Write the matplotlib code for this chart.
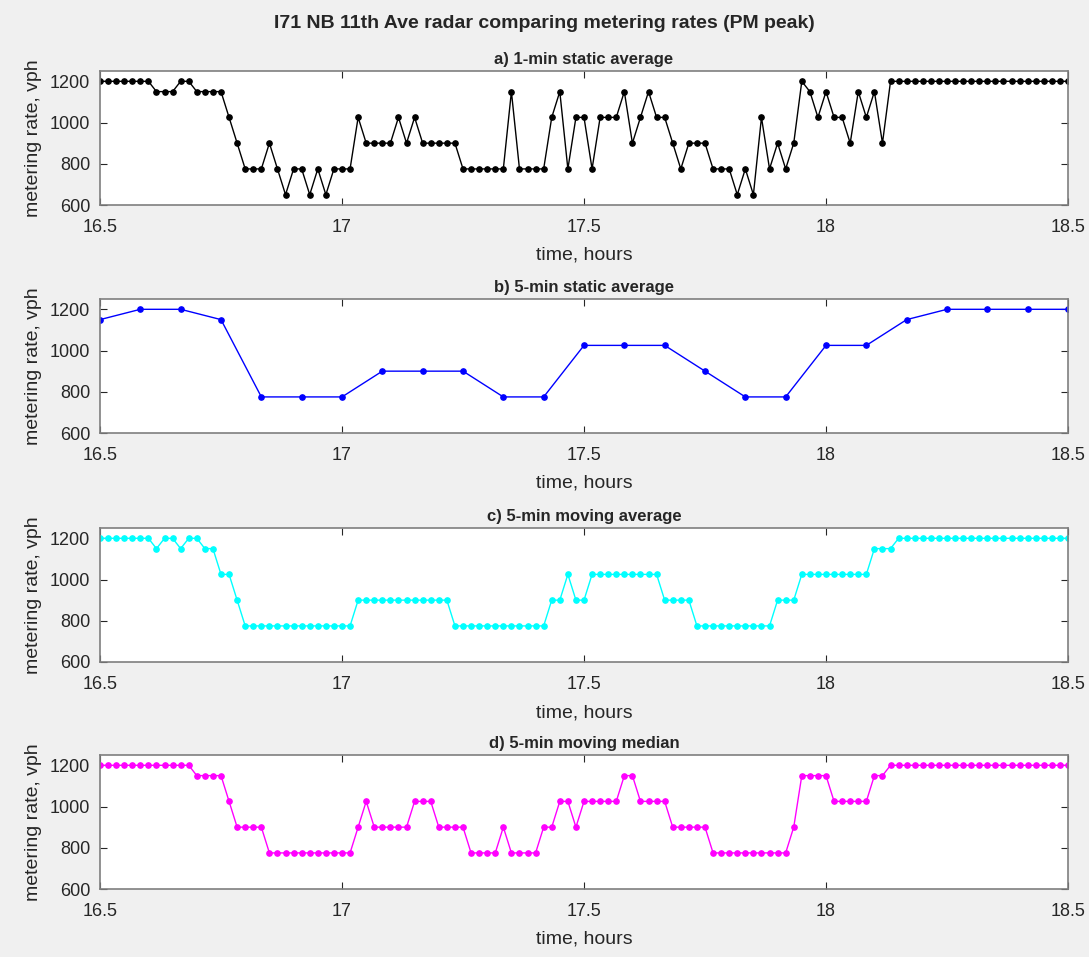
import numpy as np
import matplotlib
matplotlib.use("Agg")
import matplotlib.pyplot as plt

plt.rcParams['font.family'] = ['Liberation Sans', 'DejaVu Sans']

# --- data: metering rates (vph), one sample per minute from 16.5 h to 18.5 h ---
minutes = np.arange(121)
t_1min = 16.5 + minutes / 60.0

rate_1min_static = [
    1200, 1200, 1200, 1200, 1200, 1200, 1200, 1150, 1150, 1150,
    1200, 1200, 1150, 1150, 1150, 1150, 1025, 900, 775, 775,
    775, 900, 775, 650, 775, 775, 650, 775, 650, 775,
    775, 775, 1025, 900, 900, 900, 900, 1025, 900, 1025,
    900, 900, 900, 900, 900, 775, 775, 775, 775, 775,
    775, 1150, 775, 775, 775, 775, 1025, 1150, 775, 1025,
    1025, 775, 1025, 1025, 1025, 1150, 900, 1025, 1150, 1025,
    1025, 900, 775, 900, 900, 900, 775, 775, 775, 650,
    775, 650, 1025, 775, 900, 775, 900, 1200, 1150, 1025,
    1150, 1025, 1025, 900, 1150, 1025, 1150, 900, 1200, 1200,
    1200, 1200, 1200, 1200, 1200, 1200, 1200, 1200, 1200, 1200,
    1200, 1200, 1200, 1200, 1200, 1200, 1200, 1200, 1200, 1200,
    1200,
]

t_5min = 16.5 + np.arange(25) * 5 / 60.0
rate_5min_static = [
    1150, 1200, 1200, 1150, 775, 775, 775, 900, 900, 900,
    775, 775, 1025, 1025, 1025, 900, 775, 775, 1025, 1025,
    1150, 1200, 1200, 1200, 1200,
]

rate_5min_mavg = [
    1200, 1200, 1200, 1200, 1200, 1200, 1200, 1150, 1200, 1200,
    1150, 1200, 1200, 1150, 1150, 1025, 1025, 900, 775, 775,
    775, 775, 775, 775, 775, 775, 775, 775, 775, 775,
    775, 775, 900, 900, 900, 900, 900, 900, 900, 900,
    900, 900, 900, 900, 775, 775, 775, 775, 775, 775,
    775, 775, 775, 775, 775, 775, 900, 900, 1025, 900,
    900, 1025, 1025, 1025, 1025, 1025, 1025, 1025, 1025, 1025,
    900, 900, 900, 900, 775, 775, 775, 775, 775, 775,
    775, 775, 775, 775, 900, 900, 900, 1025, 1025, 1025,
    1025, 1025, 1025, 1025, 1025, 1025, 1150, 1150, 1150, 1200,
    1200, 1200, 1200, 1200, 1200, 1200, 1200, 1200, 1200, 1200,
    1200, 1200, 1200, 1200, 1200, 1200, 1200, 1200, 1200, 1200,
    1200,
]

rate_5min_mmed = [
    1200, 1200, 1200, 1200, 1200, 1200, 1200, 1200, 1200, 1200,
    1200, 1200, 1150, 1150, 1150, 1150, 1025, 900, 900, 900,
    900, 775, 775, 775, 775, 775, 775, 775, 775, 775,
    775, 775, 900, 1025, 900, 900, 900, 900, 900, 1025,
    1025, 1025, 900, 900, 900, 900, 775, 775, 775, 775,
    900, 775, 775, 775, 775, 900, 900, 1025, 1025, 900,
    1025, 1025, 1025, 1025, 1025, 1150, 1150, 1025, 1025, 1025,
    1025, 900, 900, 900, 900, 900, 775, 775, 775, 775,
    775, 775, 775, 775, 775, 775, 900, 1150, 1150, 1150,
    1150, 1025, 1025, 1025, 1025, 1025, 1150, 1150, 1200, 1200,
    1200, 1200, 1200, 1200, 1200, 1200, 1200, 1200, 1200, 1200,
    1200, 1200, 1200, 1200, 1200, 1200, 1200, 1200, 1200, 1200,
    1200,
]

panels = [
    ("a) 1-min static average", t_1min, rate_1min_static, "black"),
    ("b) 5-min static average", t_5min, rate_5min_static, "blue"),
    ("c) 5-min moving average", t_1min, rate_5min_mavg, "cyan"),
    ("d) 5-min moving median", t_1min, rate_5min_mmed, "magenta"),
]

xticks = [16.5, 17, 17.5, 18, 18.5]
xticklabels = ["16.5", "17", "17.5", "18", "18.5"]
yticks = [600, 800, 1000, 1200]

W, H = 1089, 957
fig = plt.figure(figsize=(W / 100, H / 100), dpi=100, facecolor="#f0f0f0")

tops = [71, 299, 528, 755]
ax_h = 134
for (title, t, vals, col), top in zip(panels, tops):
    ax = fig.add_axes([100 / W, 1 - (top + ax_h) / H, 968 / W, ax_h / H])
    ax.plot(t, vals, color=col, lw=1.0, marker="o", ms=3.8, mfc=col, mec=col)
    ax.set_xlim(16.5, 18.5)
    ax.set_ylim(600, 1250)
    ax.set_xticks(xticks)
    ax.set_xticklabels(xticklabels)
    ax.set_yticks(yticks)
    ax.tick_params(direction="in", top=True, right=True, labelsize=13,
                   length=5, color="#262626", labelcolor="#262626")
    ax.tick_params(axis="x", pad=10)
    ax.tick_params(axis="y", pad=7)
    for s in ax.spines.values():
        s.set_color("#7f7f7f")
        s.set_linewidth(1.2)
    ax.set_xlabel("time, hours", fontsize=14, color="#262626", labelpad=8)
    ax.set_ylabel("metering rate, vph", fontsize=14, color="#262626", labelpad=6)
    ax.set_title(title, fontsize=12, fontweight="bold", pad=5, color="#262626")

fig.text(0.5, 1 - 23 / H, "I71 NB 11th Ave radar comparing metering rates (PM peak)",
         ha="center", va="center", fontsize=14, fontweight="bold", color="#262626")

fig.savefig("out.png", dpi=100, facecolor=fig.get_facecolor())
